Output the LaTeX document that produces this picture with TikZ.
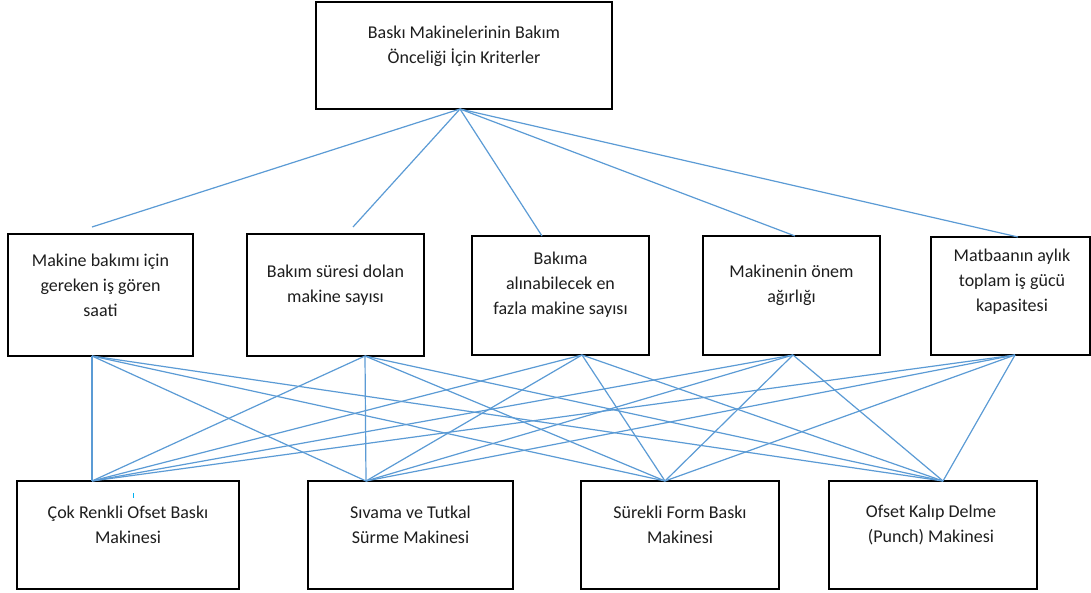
\documentclass[tikz,border=0pt]{standalone}
\usepackage{fontspec}
\setmainfont{Carlito}
\definecolor{linkblue}{RGB}{91,155,213}
\definecolor{txt}{RGB}{30,30,30}
\definecolor{cursorcol}{RGB}{0,176,240}
\begin{document}
\begin{tikzpicture}[x=1pt,y=-1pt,
  box/.style={draw=black,line width=1.3pt,inner sep=0pt,outer sep=0pt,fill=white},
  lbl/.style={align=center,text=txt,font=\fontsize{18}{25}\selectfont,inner sep=0pt},
  link/.style={draw=linkblue,line width=1.2pt}]
\useasboundingbox (0,0) rectangle (1091,593);
\fill[white] (0,0) rectangle (1091,593);

% boxes
\node[box,minimum width=296pt,minimum height=107pt] (top) at (464,55.5) {};
\node[box,minimum width=185pt,minimum height=122pt] (m1) at (100.5,295) {};
\node[box,minimum width=177pt,minimum height=122pt] (m2) at (335.5,295) {};
\node[box,minimum width=177pt,minimum height=119pt] (m3) at (560.5,295.5) {};
\node[box,minimum width=177pt,minimum height=119pt] (m4) at (791.5,295.5) {};
\node[box,minimum width=159pt,minimum height=118pt] (m5) at (1010.5,296) {};
\node[box,minimum width=222pt,minimum height=108pt] (b1) at (128,535) {};
\node[box,minimum width=205pt,minimum height=108pt] (b2) at (410.5,535) {};
\node[box,minimum width=198pt,minimum height=108pt] (b3) at (680,535) {};
\node[box,minimum width=208pt,minimum height=108pt] (b4) at (933,535) {};

% texts
\node[lbl] (topt) at (464,46) {Baskı Makinelerinin Bakım\\Önceliği İçin Kriterler};
\node[lbl] (m1t) at (100.5,285) {Makine bakımı için\\gereken iş gören\\saati};
\node[lbl] (m2t) at (335.5,285) {Bakım süresi dolan\\makine sayısı};
\node[lbl] (m3t) at (560.5,285) {Bakıma\\alınabilecek en\\fazla makine sayısı};
\node[lbl] (m4t) at (791.5,285) {Makinenin önem\\ağırlığı};
\node[lbl] (m5t) at (1012,282) {Matbaanın aylık\\toplam iş gücü\\kapasitesi};
\node[lbl] (b1t) at (128,525) {Çok Renkli Ofset Baskı\\Makinesi};
\node[lbl] (b2t) at (410.5,525) {Sıvama ve Tutkal\\Sürme Makinesi};
\node[lbl] (b3t) at (680,525) {Sürekli Form Baskı\\Makinesi};
\node[lbl] (b4t) at (931,525) {Ofset Kalıp Delme\\(Punch) Makinesi};

% ports
\coordinate (apex) at ([xshift=-4pt]top.south);
\coordinate (m1n) at ([xshift=-8.5pt,yshift=7pt]m1.north);
\coordinate (m2n) at ([xshift=17.5pt,yshift=7pt]m2.north);
\coordinate (m3n) at ([xshift=-18.5pt]m3.north);
\coordinate (m4n) at ([xshift=3.5pt]m4.north);
\coordinate (m5n) at ([xshift=7.5pt]m5.north);
\coordinate (m1s) at ([xshift=-8.5pt]m1.south);
\coordinate (m2s) at ([xshift=29.5pt]m2.south);
\coordinate (m3s) at ([xshift=21.5pt]m3.south);
\coordinate (m4s) at ([xshift=1.5pt]m4.south);
\coordinate (m5s) at ([xshift=4.5pt]m5.south);
\coordinate (b1n) at ([xshift=-36pt]b1.north);
\coordinate (b2n) at ([xshift=-44.5pt]b2.north);
\coordinate (b3n) at ([xshift=-15pt]b3.north);
\coordinate (b4n) at ([xshift=10pt]b4.north);

% connectors top -> criteria
\foreach \m in {m1n,m2n,m3n,m4n,m5n} \draw[link] (apex) -- (\m);
% connectors criteria -> machines
\foreach \m in {m1s,m2s,m3s,m4s,m5s}
  \foreach \b in {b1n,b2n,b3n,b4n}
    \draw[link] (\m) -- (\b);

% small cursor mark
\draw[cursorcol,line width=0.8pt] ([xshift=5pt,yshift=-12pt]b1.north) -- ([xshift=5pt,yshift=-17pt]b1.north);
\end{tikzpicture}
\end{document}
